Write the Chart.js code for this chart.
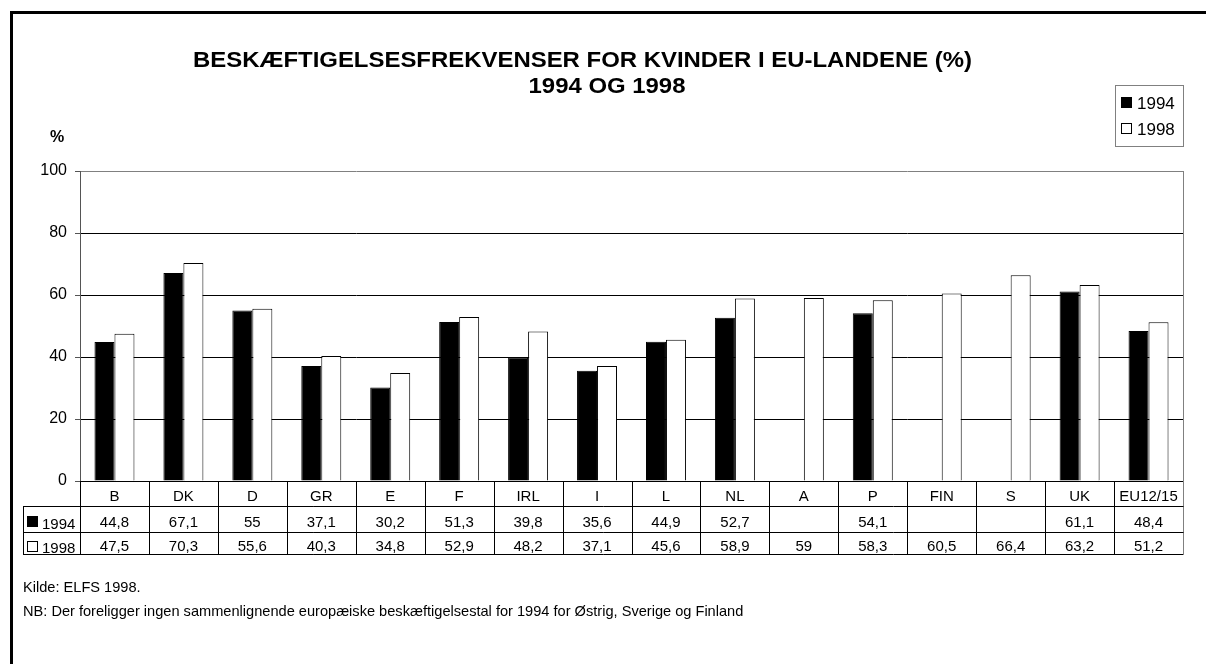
<!DOCTYPE html>
<html>
<head>
<meta charset="utf-8">
<script src="https://cdn.jsdelivr.net/npm/chart.js@4/dist/chart.umd.min.js"></script>
<style>
  body { margin: 0; background: #fff; }
  canvas { display: block; }
</style>
</head>
<body>
<canvas id="chart" width="1206" height="664"></canvas>
<script>
const categories = ['B', 'DK', 'D', 'GR', 'E', 'F', 'IRL', 'I', 'L', 'NL', 'A', 'P', 'FIN', 'S', 'UK', 'EU12/15'];
const values1994 = [44.8, 67.1, 55, 37.1, 30.2, 51.3, 39.8, 35.6, 44.9, 52.7, null, 54.1, null, null, 61.1, 48.4];
const values1998 = [47.5, 70.3, 55.6, 40.3, 34.8, 52.9, 48.2, 37.1, 45.6, 58.9, 59, 58.3, 60.5, 66.4, 63.2, 51.2];
const seriesNames = ['1994', '1998'];
const yTicks = [0, 20, 40, 60, 80, 100];
const titleLines = ['BESKÆFTIGELSESFREKVENSER FOR KVINDER I EU-LANDENE (%)', '1994 OG 1998'];
const notes = [
    'Kilde: ELFS 1998.',
    'NB: Der foreligger ingen sammenlignende europæiske beskæftigelsestal for 1994 for Østrig, Sverige og Finland'
];

const FONT = '"Liberation Sans", Arial, sans-serif';
const fills = ['#000000', '#ffffff'];

function fmt(v) {
    return v == null ? '' : String(v).replace('.', ',');
}

function swatch(ctx, x, y, size, fill) {
    ctx.fillStyle = fill;
    ctx.fillRect(x, y, size, size);
    ctx.strokeStyle = '#000';
    ctx.lineWidth = 1;
    ctx.strokeRect(x + 0.5, y + 0.5, size - 1, size - 1);
}

function line(ctx, x1, y1, x2, y2, color) {
    ctx.strokeStyle = color;
    ctx.lineWidth = 1;
    ctx.beginPath();
    ctx.moveTo(x1, y1);
    ctx.lineTo(x2, y2);
    ctx.stroke();
}

const decorPlugin = {
    id: 'decor',
    afterDraw(chart) {
        const ctx = chart.ctx;
        const area = chart.chartArea;
        const xs = chart.scales.x;
        ctx.save();

        // frame
        ctx.strokeStyle = '#000';
        ctx.lineWidth = 3;
        ctx.beginPath();
        ctx.moveTo(11.5, 664);
        ctx.lineTo(11.5, 12.5);
        ctx.lineTo(1206, 12.5);
        ctx.stroke();

        // title, stretched a little to the width of the original
        ctx.fillStyle = '#000';
        ctx.textAlign = 'center';
        ctx.textBaseline = 'middle';
        ctx.font = 'bold 22px ' + FONT;
        const sx = 779 / ctx.measureText(titleLines[0]).width;
        [[titleLines[0], 582.5, 61], [titleLines[1], 607, 87]].forEach(([t, tx, ty]) => {
            ctx.save();
            ctx.translate(tx, ty);
            ctx.scale(sx, 1);
            ctx.fillText(t, 0, 0);
            ctx.restore();
        });

        // y unit
        ctx.font = 'bold 16px ' + FONT;
        ctx.fillText('%', 57, 138);

        // plot right border
        line(ctx, area.right + 0.5, area.top, area.right + 0.5, area.bottom, '#808080');

        // legend box
        ctx.fillStyle = '#fff';
        ctx.fillRect(1115, 85, 68, 61);
        ctx.strokeStyle = '#808080';
        ctx.strokeRect(1115.5, 85.5, 68, 61);
        ctx.font = '17px ' + FONT;
        ctx.textAlign = 'left';
        seriesNames.forEach((name, i) => {
            const cy = 103 + i * 26;
            swatch(ctx, 1121, cy - 6, 11, fills[i]);
            ctx.fillStyle = '#000';
            ctx.fillText(name, 1137, cy + 1);
        });

        // data table
        const top = area.bottom;
        const r1 = 506, r2 = 532, r3 = 554;
        const left = 23;
        const edges = [];
        for (let i = 0; i <= categories.length; i++) {
            edges.push(Math.round(xs.getPixelForValue(i - 0.5)) + 0.5);
        }
        edges.forEach((ex, i) => {
            line(ctx, ex, top, ex, r3, i === categories.length ? '#808080' : '#000');
        });
        line(ctx, left + 0.5, r1, left + 0.5, r3, '#000');
        [r1, r2, r3].forEach(ry => line(ctx, left, ry + 0.5, edges[edges.length - 1], ry + 0.5, '#000'));

        ctx.font = '15px ' + FONT;
        ctx.textAlign = 'center';
        ctx.fillStyle = '#000';
        categories.forEach((c, i) => {
            const cx = xs.getPixelForValue(i);
            ctx.fillText(c, cx, 497);
            ctx.fillText(fmt(values1994[i]), cx, 523);
            ctx.fillText(fmt(values1998[i]), cx, 547);
        });

        ctx.textAlign = 'left';
        swatch(ctx, 27, 516, 11, fills[0]);
        swatch(ctx, 27, 541, 11, fills[1]);
        ctx.fillStyle = '#000';
        ctx.fillText(seriesNames[0], 42, 525);
        ctx.fillText(seriesNames[1], 42, 549);

        // notes
        ctx.font = '14.6px ' + FONT;
        ctx.fillText(notes[0], 23, 588);
        ctx.fillText(notes[1], 23, 612);

        ctx.restore();
    }
};

new Chart(document.getElementById('chart'), {
    type: 'bar',
    data: {
        labels: categories,
        datasets: [{
            label: seriesNames[0],
            data: values1994,
            backgroundColor: fills[0],
            borderColor: '#000',
            borderWidth: 1
        }, {
            label: seriesNames[1],
            data: values1998,
            backgroundColor: fills[1],
            borderColor: '#000',
            borderWidth: 1
        }]
    },
    options: {
        responsive: false,
        animation: false,
        devicePixelRatio: 1,
        categoryPercentage: 0.58,
        barPercentage: 1,
        layout: {
            padding: { left: 20, top: 171, right: 23, bottom: 183 }
        },
        plugins: {
            legend: { display: false },
            tooltip: { enabled: false },
            title: { display: false }
        },
        scales: {
            x: { display: false },
            y: {
                min: 0,
                max: 100,
                afterFit(scale) { scale.width = 60; },
                afterBuildTicks(scale) { scale.ticks = yTicks.map(v => ({ value: v })); },
                ticks: {
                    color: '#000',
                    padding: 8,
                    font: { family: FONT, size: 16 }
                },
                grid: {
                    color: c => (c.tick && c.tick.value === 100 ? '#808080' : '#000'),
                    tickColor: '#555',
                    tickLength: 5
                },
                border: { color: '#555', width: 1 }
            }
        }
    },
    plugins: [decorPlugin]
});
</script>
</body>
</html>
